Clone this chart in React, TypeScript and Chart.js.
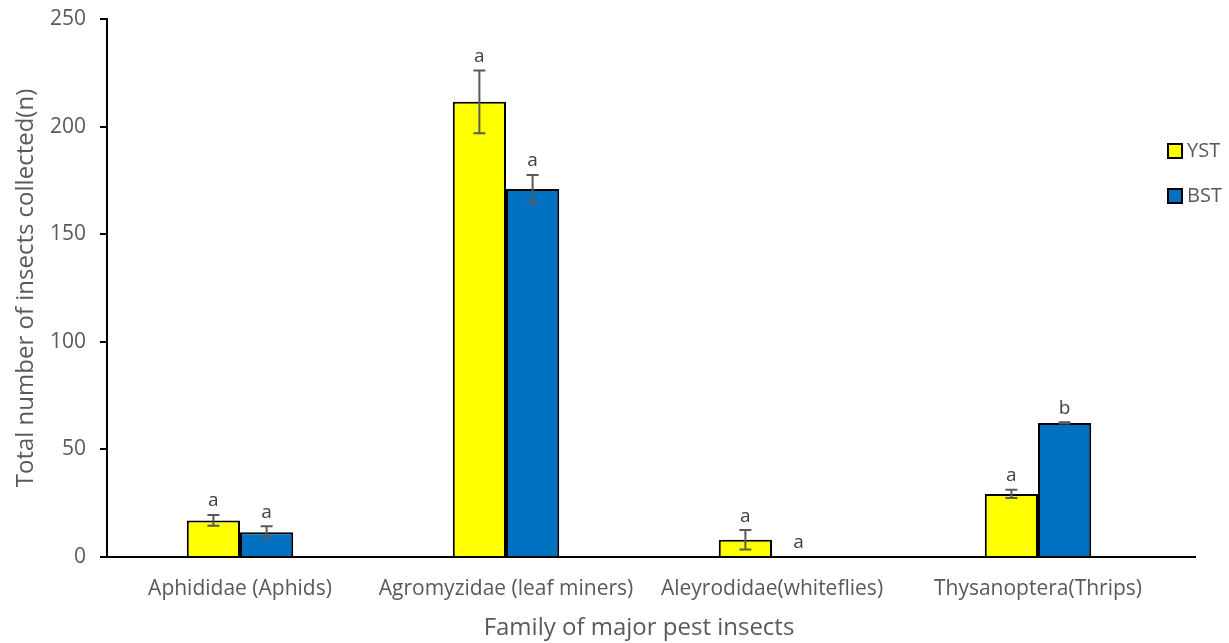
import React, { useEffect, useRef } from "react";
import { Chart, registerables } from "chart.js";

Chart.register(...registerables);

const categories = [
  "Aphididae (Aphids)",
  "Agromyzidae (leaf miners)",
  "Aleyrodidae(whiteflies)",
  "Thysanoptera(Thrips)",
];
const seriesNames = ["YST", "BST"];
const ystValues = [17, 211.5, 8, 29.3];
const bstValues = [11.5, 171, 0, 62.3];
const ystErrors = [2.5, 14.6, 4.5, 1.9];
const bstErrors = [2.8, 6.5, 0, 0.3];
const ystLetters = ["a", "a", "a", "a"];
const bstLetters = ["a", "a", "a", "b"];
const yTicks = [0, 50, 100, 150, 200, 250];

const FONT = "'Open Sans', 'Noto Sans', sans-serif";
const GREY = "#595959";

const errorPlugin = {
  id: "errorBarsLetters",
  beforeDatasetsDraw(chart: any) {
    // extend the category axis line a little past the plot area, as in the original
    const ctx = chart.ctx;
    const y = chart.scales.y.getPixelForValue(0);
    ctx.save();
    ctx.strokeStyle = "#000";
    ctx.lineWidth = 2;
    ctx.beginPath();
    ctx.moveTo(chart.chartArea.right - 1, y);
    ctx.lineTo(chart.chartArea.right + 25, y);
    ctx.stroke();
    ctx.restore();
  },
  afterDatasetsDraw(chart: any) {
    const ctx = chart.ctx;
    const yScale = chart.scales.y;
    const errs = [ystErrors, bstErrors];
    const letters = [ystLetters, bstLetters];
    chart.data.datasets.forEach((ds: any, di: number) => {
      const meta = chart.getDatasetMeta(di);
      meta.data.forEach((bar: any, i: number) => {
        const v = ds.data[i];
        const e = errs[di][i];
        const x = bar.x;
        const yTop = yScale.getPixelForValue(v + e);
        const yBot = yScale.getPixelForValue(Math.max(0, v - e));
        if (e > 0) {
          ctx.save();
          ctx.strokeStyle = GREY;
          ctx.lineWidth = 2;
          ctx.beginPath();
          ctx.moveTo(x, yTop);
          ctx.lineTo(x, yBot);
          ctx.moveTo(x - 6, yTop);
          ctx.lineTo(x + 6, yTop);
          ctx.moveTo(x - 6, yBot);
          ctx.lineTo(x + 6, yBot);
          ctx.stroke();
          ctx.restore();
        }
        ctx.save();
        ctx.fillStyle = "#404040";
        ctx.font = `19px ${FONT}`;
        ctx.textAlign = "center";
        ctx.textBaseline = "middle";
        ctx.fillText(letters[di][i], x, yTop - 14);
        ctx.restore();
      });
    });
  },
  afterDraw(chart: any) {
    const ctx = chart.ctx;
    const items = chart.data.datasets;
    items.forEach((ds: any, i: number) => {
      const cy = 151 + i * 45;
      const bx = 1168;
      ctx.save();
      ctx.fillStyle = ds.backgroundColor;
      ctx.strokeStyle = "#000";
      ctx.lineWidth = 2;
      ctx.fillRect(bx, cy - 7, 14, 14);
      ctx.strokeRect(bx, cy - 7, 14, 14);
      ctx.fillStyle = GREY;
      ctx.font = `20px ${FONT}`;
      ctx.textAlign = "left";
      ctx.textBaseline = "middle";
      ctx.fillText(ds.label, 1187, cy);
      ctx.restore();
    });
  },
};

export default function App() {
  const ref = useRef<HTMLCanvasElement | null>(null);
  useEffect(() => {
    if (!ref.current) return;
    const chart = new Chart(ref.current, {
      type: "bar",
      data: {
        labels: categories,
        datasets: [
          {
            label: seriesNames[0],
            data: ystValues,
            backgroundColor: "#FFFF00",
            borderColor: "#000",
            borderWidth: 2,
          },
          {
            label: seriesNames[1],
            data: bstValues,
            backgroundColor: "#0070C0",
            borderColor: "#000",
            borderWidth: 2,
          },
        ],
      },
      options: {
        animation: false,
        responsive: true,
        maintainAspectRatio: false,
        layout: { padding: { top: 19, right: 58, left: 0, bottom: 0 } },
        plugins: {
          legend: { display: false },
          tooltip: { enabled: false },
        },
        datasets: {
          bar: { barPercentage: 1, categoryPercentage: 0.4 },
        },
        scales: {
          x: {
            grid: { display: false },
            border: { color: "#000", width: 2 },
            ticks: {
              color: GREY,
              font: { family: FONT, size: 21 },
              padding: 11,
              maxRotation: 0,
              autoSkip: false,
            },
            title: {
              display: true,
              text: "Family of major pest insects",
              color: GREY,
              font: { family: FONT, size: 24 },
              padding: { top: 0, bottom: 0 },
            },
            afterFit(scale: any) {
              scale.height = 86;
              scale.paddingLeft = 0;
              scale.paddingRight = 0;
            },
          },
          y: {
            min: 0,
            max: 250,
            afterBuildTicks(scale: any) {
              scale.ticks = yTicks.map((v) => ({ value: v }));
            },
            grid: {
              drawOnChartArea: false,
              drawTicks: true,
              tickLength: 7,
              color: "#000",
              lineWidth: 2,
            },
            border: { color: "#000", width: 2 },
            ticks: {
              color: GREY,
              font: { family: FONT, size: 21 },
              padding: 14,
            },
            title: {
              display: true,
              text: "Total number of insects collected(n)",
              color: GREY,
              font: { family: FONT, size: 24 },
              padding: { top: 12, bottom: 0 },
            },
            afterFit(scale: any) {
              scale.width = 107;
              scale.paddingTop = 0;
              scale.paddingBottom = 0;
            },
          },
        },
      },
      plugins: [errorPlugin],
    });
    return () => chart.destroy();
  }, []);
  return (
    <div style={{ position: "fixed", left: 0, top: 0, width: 1229, height: 643, background: "#fff" }}>
      <canvas ref={ref} />
    </div>
  );
}
